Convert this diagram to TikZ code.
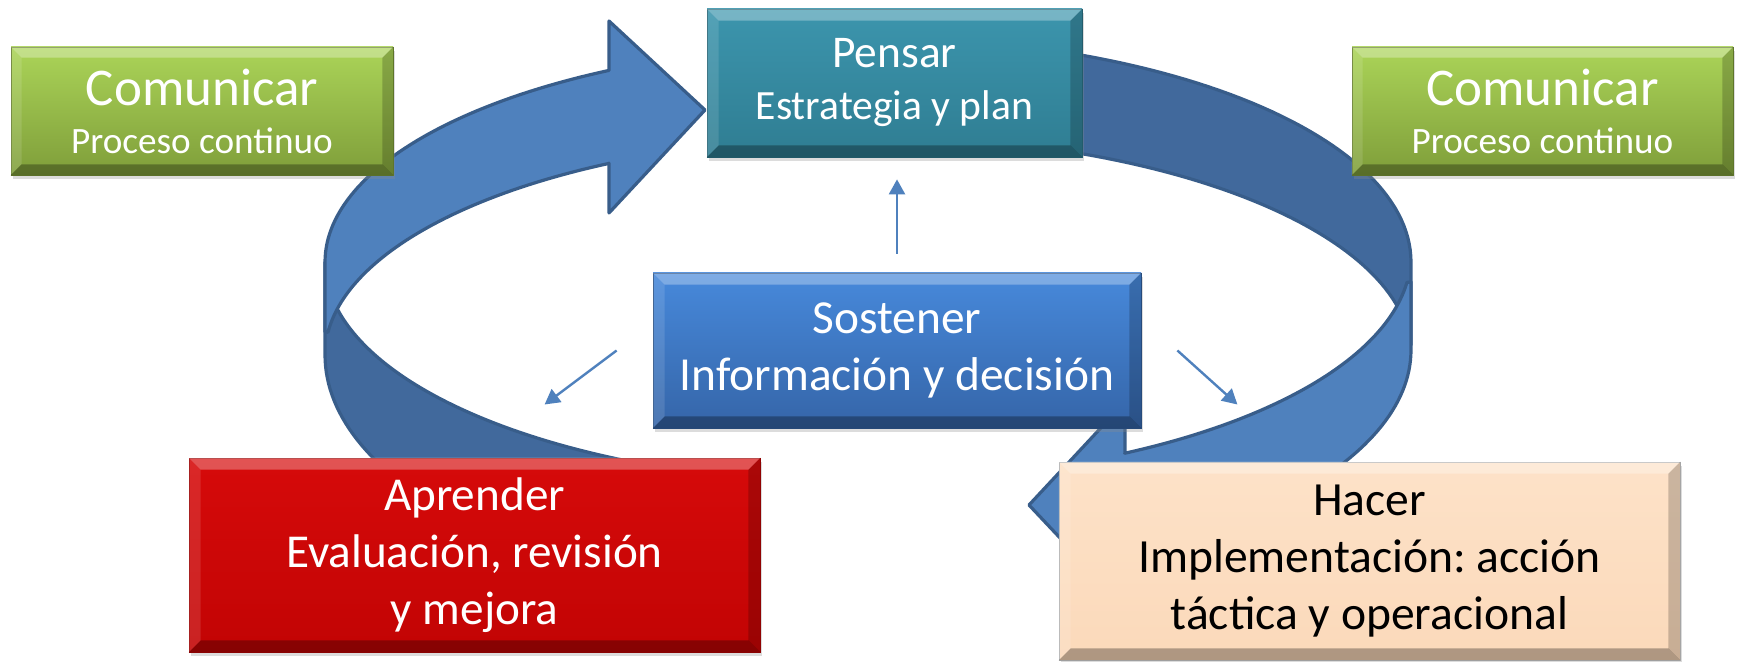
\documentclass[tikz,border=0pt]{standalone}
\usepackage{fontspec}
\setmainfont{Carlito}
\usetikzlibrary{arrows.meta,shadows}
\frenchspacing

\definecolor{ribbonlight}{HTML}{4F81BD}
\definecolor{ribbondark}{HTML}{41699C}
\definecolor{ribbonline}{HTML}{385D8A}
\definecolor{commtop}{HTML}{ABD458}
\definecolor{commbot}{HTML}{7F9E3A}
\definecolor{pensartop}{HTML}{3C95AD}
\definecolor{pensarbot}{HTML}{2F7D92}
\definecolor{sosttop}{HTML}{4789DB}
\definecolor{sostbot}{HTML}{3565A8}
\definecolor{aprtop}{HTML}{D60A0A}
\definecolor{aprbot}{HTML}{C20404}
\definecolor{hacertop}{HTML}{FDE2C8}
\definecolor{hacerbot}{HTML}{FBD9BA}

% bevel strips round a box node
\newcommand\boxbevel[2]{%
  \fill[white,opacity=0.3] (#1.north west) -- (#1.north east) -- ([shift={(-#2,#2)}]#1.north east) -- ([shift={(#2,#2)}]#1.north west) -- cycle;
  \fill[white,opacity=0.12] (#1.north west) -- ([shift={(#2,#2)}]#1.north west) -- ([shift={(#2,-#2)}]#1.south west) -- (#1.south west) -- cycle;
  \fill[black,opacity=0.3] (#1.south west) -- ([shift={(#2,-#2)}]#1.south west) -- ([shift={(-#2,-#2)}]#1.south east) -- (#1.south east) -- cycle;
  \fill[black,opacity=0.2] (#1.south east) -- ([shift={(-#2,-#2)}]#1.south east) -- ([shift={(-#2,#2)}]#1.north east) -- (#1.north east) -- cycle;
}

\tikzset{
  box/.style={rectangle, inner sep=0pt, align=center, line width=0.4pt,
    drop shadow={fill=black!45, opacity=0.3, shadow xshift=1pt, shadow yshift=-2pt}},
  light/.style={fill=ribbonlight, draw=ribbonline, line width=1.6pt, line join=round},
  dark/.style={fill=ribbondark, draw=ribbonline, line width=1.6pt, line join=round},
  conn/.style={draw=ribbonlight, line width=1.2pt, -{Triangle[length=7.5pt,width=8pt]}},
}

\begin{document}
\begin{tikzpicture}[x=0.5pt, y=-0.5pt]
  \useasboundingbox[fill=white] (0,0) rectangle (1739,662);

  % back ribbons
  \path[dark] plot[domain=284:360,samples=50,variable=\t] ({868+543*cos(\t)},{262+225*sin(\t)})
    -- (1411,345)
    -- plot[domain=357:284,samples=50,variable=\t] ({868+543*cos(\t)},{355+219*sin(\t)})
    -- cycle;
  \path[dark] (325,262) -- (325,355)
    -- plot[domain=180:115,samples=50,variable=\t] ({868+543*cos(\t)},{355+250*sin(\t)})
    -- plot[domain=115:175,samples=50,variable=\t] ({868+543*cos(\t)},{262+222*sin(\t)})
    -- cycle;
  % front ribbons with heads
  \path[light] (609,70) -- (609,21) -- (705,110) -- (609,213) -- (609,163)
    -- plot[domain=241.5:186,samples=50,variable=\t] ({868+543*cos(\t)},{355+218*sin(\t)})
    -- (325,332) -- (325,262)
    -- plot[domain=180:241.5,samples=50,variable=\t] ({868+543*cos(\t)},{262+218*sin(\t)})
    -- cycle;
  \path[light] (1411,282) -- (1411,350)
    -- plot[domain=0:61.8,samples=50,variable=\t] ({868+543*cos(\t)},{350+234*sin(\t)})
    -- (1125,607) -- (1029,505) -- (1125,402) -- (1125,453)
    -- plot[domain=61.8:7,samples=50,variable=\t] ({868+543*cos(\t)},{255+225*sin(\t)})
    -- cycle;

  % boxes
  \node[box, top color=commtop, bottom color=commbot, draw=commbot!80!black,
    minimum width=191pt, minimum height=64pt, text=white,
    font=\fontsize{18.6}{24}\selectfont] (commL) at (202,111)
    {{\fontsize{26.5}{24}\selectfont Comunicar}\\Proceso continuo};
  \node[box, top color=commtop, bottom color=commbot, draw=commbot!80!black,
    minimum width=190.5pt, minimum height=64pt, text=white,
    font=\fontsize{18.6}{24}\selectfont] (commR) at (1542.5,111)
    {{\fontsize{26.5}{24}\selectfont Comunicar}\\Proceso continuo};
  \node[box, top color=pensartop, bottom color=pensarbot, draw=pensarbot!80!black,
    minimum width=187.5pt, minimum height=74pt, text=white,
    font=\fontsize{20.8}{26}\selectfont] (pensar) at (894.5,83)
    {{\fontsize{22.7}{26}\selectfont Pensar}\\Estrategia y plan};
  \node[box, top color=sosttop, bottom color=sostbot, draw=sostbot!80!black,
    minimum width=244pt, minimum height=77.5pt, text=white,
    font=\fontsize{23.7}{28.5}\selectfont] (sost) at (897,350.5)
    {Sostener\\Información y decisión};
  \node[box, top color=aprtop, bottom color=aprbot, draw=aprbot!80!black,
    minimum width=285.5pt, minimum height=97pt, text=white,
    font=\fontsize{23.6}{28.5}\selectfont] (aprender) at (474.5,555)
    {Aprender\\Evaluación, revisión\\y mejora};
  \node[box, top color=hacertop, bottom color=hacerbot, draw=black!30,
    minimum width=310.5pt, minimum height=99pt, text=black,
    font=\fontsize{23.8}{28.3}\selectfont] (hacer) at (1369.5,561)
    {Hacer\\Implementación: acción\\táctica y operacional};

  \boxbevel{commL}{11}
  \boxbevel{commR}{11}
  \boxbevel{pensar}{12}
  \boxbevel{sost}{12}
  \boxbevel{aprender}{12}
  \boxbevel{hacer}{12}

  % small arrows
  \coordinate (lstart) at ([shift={(-36,0)}]sost.west);
  \coordinate (lend) at ([shift={(-72,54)}]lstart);
  \coordinate (rstart) at ([shift={(36,0)}]sost.east);
  \coordinate (rend) at ([shift={(60,54)}]rstart);
  \draw[conn, shorten <=9.5pt, shorten >=11pt] (sost.north) -- (sost.north |- pensar.south);
  \draw[conn] (lstart) -- (lend);
  \draw[conn] (rstart) -- (rend);
\end{tikzpicture}
\end{document}
